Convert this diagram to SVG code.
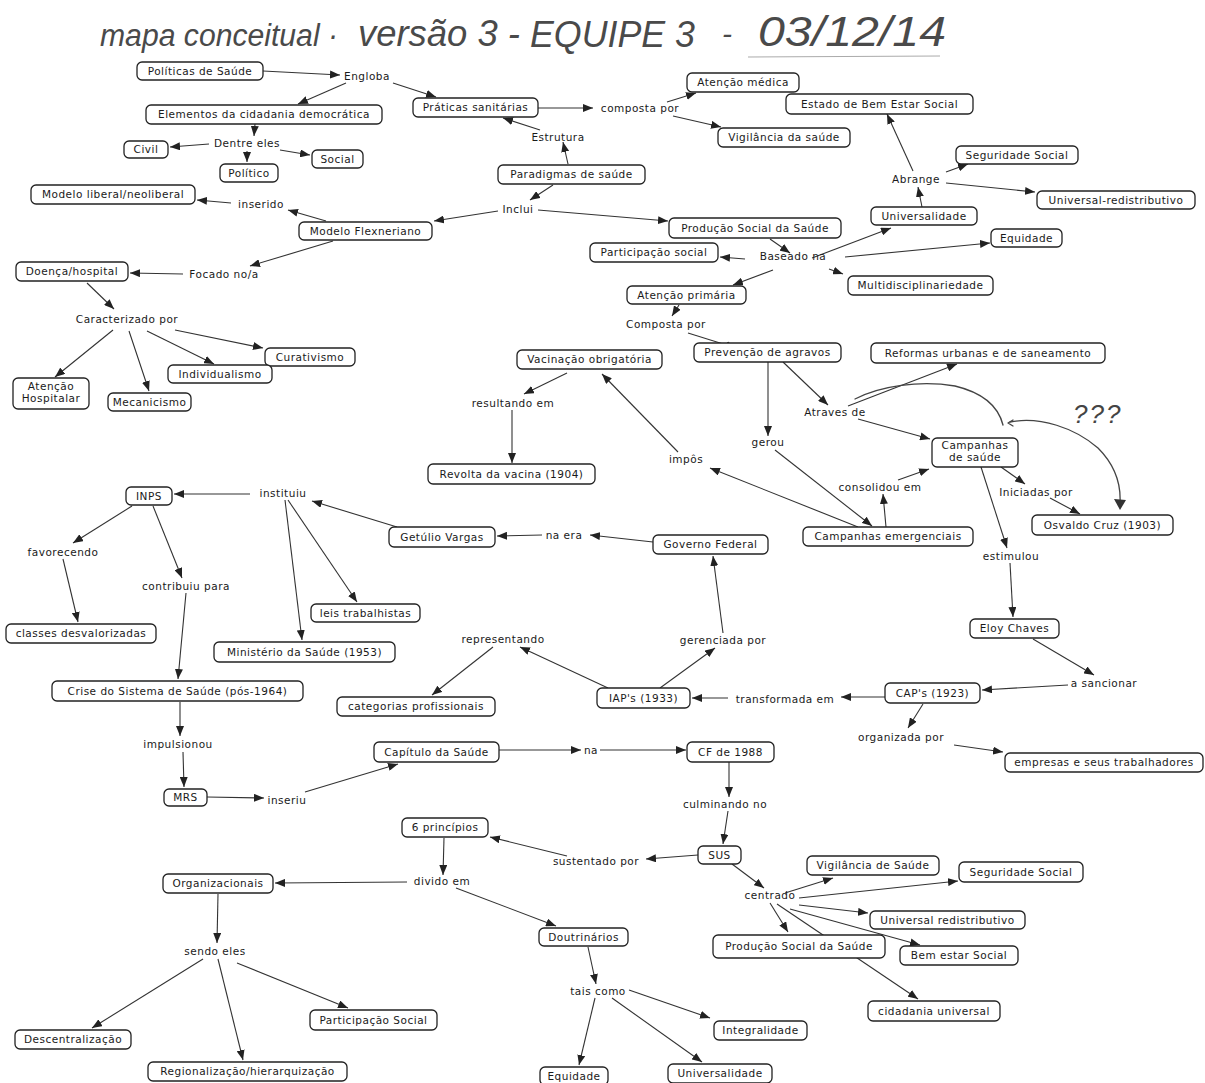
<svg xmlns="http://www.w3.org/2000/svg" width="1205" height="1083" viewBox="0 0 1205 1083">
<style>
.node rect{fill:#fff;stroke:#222;stroke-width:1.3}
.node text,.lbl text{font-family:"DejaVu Sans",Verdana,sans-serif;font-size:10.5px;letter-spacing:0.5px;fill:#1a1a1a;text-anchor:middle}
#connectors line{stroke:#333;stroke-width:1.1;marker-end:url(#arr)}
.hand{fill:none;stroke:#444;stroke-width:1.3;stroke-linecap:round}
.title{font-family:"Liberation Sans",Arial,sans-serif;fill:#4a4a4a;font-style:italic}
</style>
<defs>
<marker id="arr" viewBox="0 0 10 8" refX="10" refY="4" markerWidth="10" markerHeight="8" markerUnits="userSpaceOnUse" orient="auto"><path d="M0,0 L10,4 L0,8 z" fill="#222"/></marker>
</defs>
<rect width="1205" height="1083" fill="#fff"/>
<g id="title">
<text class="title" x="100" y="46" font-size="31" textLength="238" lengthAdjust="spacingAndGlyphs">mapa conceitual ·</text>
<text class="title" x="358" y="46" font-size="36" textLength="162" lengthAdjust="spacingAndGlyphs">versão 3 -</text>
<text class="title" x="530" y="47" font-size="36" textLength="165" lengthAdjust="spacingAndGlyphs">EQUIPE 3</text>
<text class="title" x="722" y="44" font-size="30">-</text>
<text class="title" x="758" y="46" font-size="42" textLength="188" lengthAdjust="spacingAndGlyphs">03/12/14</text>
<line x1="748" y1="57" x2="940" y2="56" stroke="#aaa" stroke-width="1"/>
</g>
<g id="connectors">
<line x1="263" y1="71" x2="340" y2="75"/>
<line x1="346" y1="83" x2="298" y2="104"/>
<line x1="393" y1="83" x2="436" y2="97"/>
<line x1="538" y1="108" x2="593" y2="108"/>
<line x1="667" y1="102" x2="696" y2="93"/>
<line x1="673" y1="116" x2="721" y2="127"/>
<line x1="913" y1="171" x2="887" y2="114"/>
<line x1="946" y1="172" x2="968" y2="164"/>
<line x1="946" y1="183" x2="1035" y2="192"/>
<line x1="922" y1="207" x2="918" y2="187"/>
<line x1="568" y1="164" x2="563" y2="142"/>
<line x1="540" y1="130" x2="503" y2="118"/>
<line x1="553" y1="185" x2="530" y2="200"/>
<line x1="498" y1="211" x2="434" y2="221"/>
<line x1="538" y1="210" x2="668" y2="221"/>
<line x1="326" y1="221" x2="288" y2="210"/>
<line x1="231" y1="203" x2="197" y2="200"/>
<line x1="333" y1="241" x2="250" y2="266"/>
<line x1="183" y1="274" x2="130" y2="273"/>
<line x1="87" y1="283" x2="114" y2="309"/>
<line x1="175" y1="330" x2="263" y2="348"/>
<line x1="147" y1="331" x2="214" y2="364"/>
<line x1="113" y1="330" x2="55" y2="377"/>
<line x1="129" y1="331" x2="149" y2="391"/>
<line x1="255" y1="124" x2="254" y2="136"/>
<line x1="209" y1="144" x2="170" y2="147"/>
<line x1="247" y1="151" x2="247" y2="162"/>
<line x1="280" y1="150" x2="310" y2="155"/>
<line x1="770" y1="239" x2="790" y2="253"/>
<line x1="745" y1="259" x2="720" y2="257"/>
<line x1="773" y1="270" x2="733" y2="285"/>
<line x1="812" y1="258" x2="891" y2="228"/>
<line x1="845" y1="257" x2="990" y2="243"/>
<line x1="829" y1="269" x2="843" y2="274"/>
<line x1="679" y1="305" x2="672" y2="316"/>
<line x1="688" y1="333" x2="736" y2="348"/>
<line x1="567" y1="373" x2="524" y2="394"/>
<line x1="512" y1="410" x2="512" y2="463"/>
<line x1="783" y1="362" x2="828" y2="405"/>
<line x1="848" y1="406" x2="957" y2="364"/>
<line x1="858" y1="419" x2="930" y2="439"/>
<line x1="768" y1="362" x2="768" y2="436"/>
<line x1="775" y1="450" x2="872" y2="526"/>
<line x1="678" y1="452" x2="602" y2="374"/>
<line x1="858" y1="527" x2="710" y2="468"/>
<line x1="886" y1="527" x2="883" y2="494"/>
<line x1="898" y1="480" x2="929" y2="469"/>
<line x1="1001" y1="467" x2="1025" y2="484"/>
<line x1="1050" y1="498" x2="1080" y2="514"/>
<line x1="981" y1="467" x2="1007" y2="548"/>
<line x1="1010" y1="563" x2="1013" y2="617"/>
<line x1="1033" y1="639" x2="1094" y2="675"/>
<line x1="1068" y1="685" x2="982" y2="690"/>
<line x1="885" y1="697" x2="841" y2="697"/>
<line x1="728" y1="698" x2="692" y2="698"/>
<line x1="660" y1="688" x2="715" y2="648"/>
<line x1="723" y1="633" x2="713" y2="556"/>
<line x1="653" y1="542" x2="590" y2="535"/>
<line x1="542" y1="535" x2="497" y2="536"/>
<line x1="397" y1="527" x2="312" y2="501"/>
<line x1="250" y1="494" x2="174" y2="494"/>
<line x1="285" y1="500" x2="302" y2="640"/>
<line x1="288" y1="500" x2="357" y2="602"/>
<line x1="132" y1="506" x2="73" y2="543"/>
<line x1="153" y1="506" x2="182" y2="578"/>
<line x1="63" y1="559" x2="78" y2="622"/>
<line x1="186" y1="593" x2="178" y2="679"/>
<line x1="608" y1="688" x2="520" y2="647"/>
<line x1="493" y1="647" x2="432" y2="695"/>
<line x1="923" y1="704" x2="908" y2="728"/>
<line x1="954" y1="745" x2="1003" y2="752"/>
<line x1="180" y1="702" x2="180" y2="736"/>
<line x1="183" y1="752" x2="184" y2="787"/>
<line x1="207" y1="797" x2="264" y2="798"/>
<line x1="305" y1="792" x2="398" y2="764"/>
<line x1="499" y1="750" x2="581" y2="750"/>
<line x1="600" y1="750" x2="686" y2="750"/>
<line x1="729" y1="762" x2="729" y2="797"/>
<line x1="728" y1="811" x2="723" y2="844"/>
<line x1="698" y1="855" x2="646" y2="859"/>
<line x1="567" y1="856" x2="490" y2="837"/>
<line x1="444" y1="838" x2="443" y2="875"/>
<line x1="407" y1="882" x2="275" y2="883"/>
<line x1="456" y1="888" x2="556" y2="926"/>
<line x1="218" y1="894" x2="217" y2="943"/>
<line x1="203" y1="959" x2="92" y2="1028"/>
<line x1="218" y1="959" x2="243" y2="1060"/>
<line x1="237" y1="963" x2="348" y2="1008"/>
<line x1="588" y1="947" x2="596" y2="984"/>
<line x1="595" y1="998" x2="579" y2="1065"/>
<line x1="629" y1="990" x2="710" y2="1018"/>
<line x1="612" y1="998" x2="702" y2="1062"/>
<line x1="732" y1="864" x2="764" y2="888"/>
<line x1="785" y1="893" x2="833" y2="878"/>
<line x1="799" y1="898" x2="958" y2="881"/>
<line x1="799" y1="905" x2="868" y2="913"/>
<line x1="790" y1="909" x2="920" y2="945"/>
<line x1="770" y1="903" x2="788" y2="932"/>
<line x1="777" y1="904" x2="918" y2="999"/>
</g>
<g id="handdrawn">
<path class="hand" d="M855,399 C880,386 920,380 955,386 C980,392 998,405 1003,425"/>
<path class="hand" d="M1008,423 L1013,420 M1008,423 L1013,426"/>
<path class="hand" d="M1010,422 C1040,416 1075,428 1098,448 C1115,465 1121,485 1120,503"/>
<path d="M1114,499 L1126,500 L1120,510 z" fill="#333"/>
<text x="1073" y="423" font-family="Liberation Sans,Arial,sans-serif" font-size="26" font-style="italic" fill="#444" letter-spacing="2">???</text>
</g>
<g id="n-politicas" class="node"><rect x="137" y="62" width="126" height="18" rx="5"/><text x="200" y="74.5">Políticas de Saúde</text></g>
<g id="l-engloba" class="lbl"><text x="367" y="79.5">Engloba</text></g>
<g id="n-elementos" class="node"><rect x="146" y="105" width="236" height="19" rx="5"/><text x="264" y="118">Elementos da cidadania democrática</text></g>
<g id="n-praticas" class="node"><rect x="413" y="98" width="125" height="19" rx="5"/><text x="475.5" y="111">Práticas sanitárias</text></g>
<g id="l-composta" class="lbl"><text x="640" y="112">composta por</text></g>
<g id="n-atencao-medica" class="node"><rect x="687" y="73" width="112" height="19" rx="5"/><text x="743" y="86">Atenção médica</text></g>
<g id="n-vigilancia-da-saude" class="node"><rect x="718" y="128" width="132" height="19" rx="5"/><text x="784" y="141">Vigilância da saúde</text></g>
<g id="n-estado" class="node"><rect x="786" y="94" width="187" height="20" rx="5"/><text x="879.5" y="107.5">Estado de Bem Estar Social</text></g>
<g id="l-abrange" class="lbl"><text x="916" y="183">Abrange</text></g>
<g id="n-seguridade1" class="node"><rect x="956" y="146" width="122" height="18" rx="5"/><text x="1017" y="158.5">Seguridade Social</text></g>
<g id="n-univredist1" class="node"><rect x="1037" y="191" width="158" height="18" rx="5"/><text x="1116" y="203.5">Universal-redistributivo</text></g>
<g id="n-universalidade1" class="node"><rect x="871" y="207" width="106" height="18" rx="5"/><text x="924" y="219.5">Universalidade</text></g>
<g id="n-equidade1" class="node"><rect x="991" y="229" width="71" height="18" rx="5"/><text x="1026.5" y="241.5">Equidade</text></g>
<g id="n-producao1" class="node"><rect x="669" y="218" width="172" height="20" rx="5"/><text x="755" y="231.5">Produção Social da Saúde</text></g>
<g id="l-baseado" class="lbl"><text x="793" y="260">Baseado na</text></g>
<g id="n-participacao1" class="node"><rect x="590" y="243" width="128" height="19" rx="5"/><text x="654" y="256">Participação social</text></g>
<g id="n-atencao-primaria" class="node"><rect x="627" y="286" width="119" height="18" rx="5"/><text x="686.5" y="298.5">Atenção primária</text></g>
<g id="n-multi" class="node"><rect x="848" y="276" width="145" height="19" rx="5"/><text x="920.5" y="289">Multidisciplinariedade</text></g>
<g id="l-composta2" class="lbl"><text x="666" y="328">Composta por</text></g>
<g id="n-prevencao" class="node"><rect x="694" y="343" width="147" height="19" rx="5"/><text x="767.5" y="356">Prevenção de agravos</text></g>
<g id="n-vacinacao" class="node"><rect x="517" y="350" width="145" height="19" rx="5"/><text x="589.5" y="363">Vacinação obrigatória</text></g>
<g id="n-reformas" class="node"><rect x="871" y="343" width="234" height="20" rx="5"/><text x="988" y="356.5">Reformas urbanas e de saneamento</text></g>
<g id="n-paradigmas" class="node"><rect x="498" y="165" width="147" height="19" rx="5"/><text x="571.5" y="178">Paradigmas de saúde</text></g>
<g id="l-estrutura" class="lbl"><text x="558" y="140.5">Estrutura</text></g>
<g id="l-inclui" class="lbl"><text x="518" y="213">Inclui</text></g>
<g id="n-flexneriano" class="node"><rect x="299" y="222" width="133" height="18" rx="5"/><text x="365.5" y="234.5">Modelo Flexneriano</text></g>
<g id="l-inserido" class="lbl"><text x="261" y="207.5">inserido</text></g>
<g id="n-liberal" class="node"><rect x="31" y="185" width="164" height="19" rx="5"/><text x="113" y="198">Modelo liberal/neoliberal</text></g>
<g id="l-focado" class="lbl"><text x="224" y="278">Focado no/a</text></g>
<g id="n-doenca" class="node"><rect x="16" y="262" width="112" height="19" rx="5"/><text x="72" y="275">Doença/hospital</text></g>
<g id="l-caracterizado" class="lbl"><text x="127" y="323">Caracterizado por</text></g>
<g id="n-curativismo" class="node"><rect x="265" y="348" width="90" height="18" rx="5"/><text x="310" y="360.5">Curativismo</text></g>
<g id="n-individualismo" class="node"><rect x="168" y="365" width="104" height="18" rx="5"/><text x="220" y="377.5">Individualismo</text></g>
<g id="n-atencao-hospitalar" class="node"><rect x="13" y="378" width="76" height="31" rx="5"/><text x="51" y="390">Atenção</text><text x="51" y="402">Hospitalar</text></g>
<g id="n-mecanicismo" class="node"><rect x="108" y="393" width="83" height="18" rx="5"/><text x="149.5" y="405.5">Mecanicismo</text></g>
<g id="l-dentre" class="lbl"><text x="247" y="146.5">Dentre eles</text></g>
<g id="n-civil" class="node"><rect x="124" y="141" width="44" height="17" rx="5"/><text x="146" y="153">Civil</text></g>
<g id="n-politico" class="node"><rect x="220" y="164" width="58" height="18" rx="5"/><text x="249" y="176.5">Político</text></g>
<g id="n-social" class="node"><rect x="312" y="150" width="51" height="18" rx="5"/><text x="337.5" y="162.5">Social</text></g>
<g id="l-resultando" class="lbl"><text x="513" y="407">resultando em</text></g>
<g id="n-revolta" class="node"><rect x="428" y="464" width="167" height="20" rx="5"/><text x="511.5" y="477.5">Revolta da vacina (1904)</text></g>
<g id="l-atraves" class="lbl"><text x="835" y="415.5">Atraves de</text></g>
<g id="n-campanhas" class="node"><rect x="932" y="438" width="86" height="29" rx="5"/><text x="975" y="449">Campanhas</text><text x="975" y="461">de saúde</text></g>
<g id="l-gerou" class="lbl"><text x="768" y="446">gerou</text></g>
<g id="l-impos" class="lbl"><text x="686" y="463">impôs</text></g>
<g id="l-consolidou" class="lbl"><text x="880" y="491">consolidou em</text></g>
<g id="n-campanhas-emerg" class="node"><rect x="803" y="527" width="170" height="19" rx="5"/><text x="888" y="540">Campanhas emergenciais</text></g>
<g id="l-iniciadas" class="lbl"><text x="1036" y="496">Iniciadas por</text></g>
<g id="n-osvaldo" class="node"><rect x="1032" y="515" width="141" height="20" rx="5"/><text x="1102.5" y="528.5">Osvaldo Cruz (1903)</text></g>
<g id="l-estimulou" class="lbl"><text x="1011" y="559.5">estimulou</text></g>
<g id="n-eloy" class="node"><rect x="970" y="619" width="89" height="19" rx="5"/><text x="1014.5" y="632">Eloy Chaves</text></g>
<g id="l-sancionar" class="lbl"><text x="1104" y="687">a sancionar</text></g>
<g id="n-caps" class="node"><rect x="885" y="683" width="95" height="20" rx="5"/><text x="932.5" y="696.5">CAP's (1923)</text></g>
<g id="l-transformada" class="lbl"><text x="785" y="703">transformada em</text></g>
<g id="n-iaps" class="node"><rect x="597" y="688" width="93" height="20" rx="5"/><text x="643.5" y="701.5">IAP's (1933)</text></g>
<g id="l-gerenciada" class="lbl"><text x="723" y="644">gerenciada por</text></g>
<g id="n-governo" class="node"><rect x="653" y="535" width="115" height="19" rx="5"/><text x="710.5" y="548">Governo Federal</text></g>
<g id="l-naera" class="lbl"><text x="564" y="539">na era</text></g>
<g id="n-getulio" class="node"><rect x="389" y="527" width="106" height="20" rx="5"/><text x="442" y="540.5">Getúlio Vargas</text></g>
<g id="l-instituiu" class="lbl"><text x="283" y="497">instituiu</text></g>
<g id="n-inps" class="node"><rect x="126" y="487" width="46" height="18" rx="5"/><text x="149" y="499.5">INPS</text></g>
<g id="l-favorecendo" class="lbl"><text x="63" y="556">favorecendo</text></g>
<g id="n-classes" class="node"><rect x="6" y="624" width="150" height="19" rx="5"/><text x="81" y="637">classes desvalorizadas</text></g>
<g id="l-contribuiu" class="lbl"><text x="186" y="589.5">contribuiu para</text></g>
<g id="n-ministerio" class="node"><rect x="214" y="642" width="181" height="20" rx="5"/><text x="304.5" y="655.5">Ministério da Saúde (1953)</text></g>
<g id="n-leis" class="node"><rect x="311" y="604" width="109" height="18" rx="5"/><text x="365.5" y="616.5">leis trabalhistas</text></g>
<g id="n-crise" class="node"><rect x="52" y="681" width="251" height="20" rx="5"/><text x="177.5" y="694.5">Crise do Sistema de Saúde (pós-1964)</text></g>
<g id="l-representando" class="lbl"><text x="503" y="643">representando</text></g>
<g id="n-categorias" class="node"><rect x="337" y="697" width="158" height="19" rx="5"/><text x="416" y="710">categorias profissionais</text></g>
<g id="l-organizada" class="lbl"><text x="901" y="741">organizada por</text></g>
<g id="n-empresas" class="node"><rect x="1005" y="753" width="198" height="19" rx="5"/><text x="1104" y="766">empresas e seus trabalhadores</text></g>
<g id="l-impulsionou" class="lbl"><text x="178" y="747.5">impulsionou</text></g>
<g id="n-mrs" class="node"><rect x="164" y="789" width="43" height="17" rx="5"/><text x="185.5" y="801">MRS</text></g>
<g id="l-inseriu" class="lbl"><text x="287" y="803.5">inseriu</text></g>
<g id="n-capitulo" class="node"><rect x="374" y="742" width="125" height="20" rx="5"/><text x="436.5" y="755.5">Capítulo da Saúde</text></g>
<g id="l-na" class="lbl"><text x="591" y="753.5">na</text></g>
<g id="n-cf" class="node"><rect x="687" y="742" width="87" height="20" rx="5"/><text x="730.5" y="755.5">CF de 1988</text></g>
<g id="l-culminando" class="lbl"><text x="725" y="808">culminando no</text></g>
<g id="n-sus" class="node"><rect x="698" y="846" width="43" height="18" rx="5"/><text x="719.5" y="858.5">SUS</text></g>
<g id="l-sustentado" class="lbl"><text x="596" y="865">sustentado por</text></g>
<g id="n-principios" class="node"><rect x="402" y="818" width="86" height="19" rx="5"/><text x="445" y="831">6 princípios</text></g>
<g id="l-divido" class="lbl"><text x="442" y="885">divido em</text></g>
<g id="n-organizacionais" class="node"><rect x="163" y="874" width="110" height="19" rx="5"/><text x="218" y="887">Organizacionais</text></g>
<g id="l-sendo" class="lbl"><text x="215" y="955">sendo eles</text></g>
<g id="n-descentralizacao" class="node"><rect x="15" y="1030" width="116" height="19" rx="5"/><text x="73" y="1043">Descentralização</text></g>
<g id="n-regionalizacao" class="node"><rect x="148" y="1062" width="199" height="19" rx="5"/><text x="247.5" y="1075">Regionalização/hierarquização</text></g>
<g id="n-participacao2" class="node"><rect x="310" y="1010" width="127" height="20" rx="5"/><text x="373.5" y="1023.5">Participação Social</text></g>
<g id="n-doutrinarios" class="node"><rect x="539" y="928" width="89" height="18" rx="5"/><text x="583.5" y="940.5">Doutrinários</text></g>
<g id="l-tais" class="lbl"><text x="598" y="995">tais como</text></g>
<g id="n-equidade2" class="node"><rect x="540" y="1067" width="68" height="18" rx="5"/><text x="574" y="1079.5">Equidade</text></g>
<g id="n-integralidade" class="node"><rect x="714" y="1021" width="93" height="19" rx="5"/><text x="760.5" y="1034">Integralidade</text></g>
<g id="n-universalidade2" class="node"><rect x="668" y="1064" width="104" height="19" rx="5"/><text x="720" y="1077">Universalidade</text></g>
<g id="l-centrado" class="lbl"><text x="770" y="899">centrado</text></g>
<g id="n-vigilancia-de-saude" class="node"><rect x="807" y="856" width="132" height="19" rx="5"/><text x="873" y="869">Vigilância de Saúde</text></g>
<g id="n-seguridade2" class="node"><rect x="959" y="862" width="124" height="20" rx="5"/><text x="1021" y="875.5">Seguridade Social</text></g>
<g id="n-univredist2" class="node"><rect x="870" y="911" width="155" height="18" rx="5"/><text x="947.5" y="923.5">Universal redistributivo</text></g>
<g id="n-bemestar" class="node"><rect x="900" y="946" width="118" height="19" rx="5"/><text x="959" y="959">Bem estar Social</text></g>
<g id="n-producao2" class="node"><rect x="713" y="935" width="172" height="23" rx="5"/><text x="799" y="950">Produção Social da Saúde</text></g>
<g id="n-cidadania" class="node"><rect x="868" y="1001" width="132" height="20" rx="5"/><text x="934" y="1014.5">cidadania universal</text></g>
</svg>
